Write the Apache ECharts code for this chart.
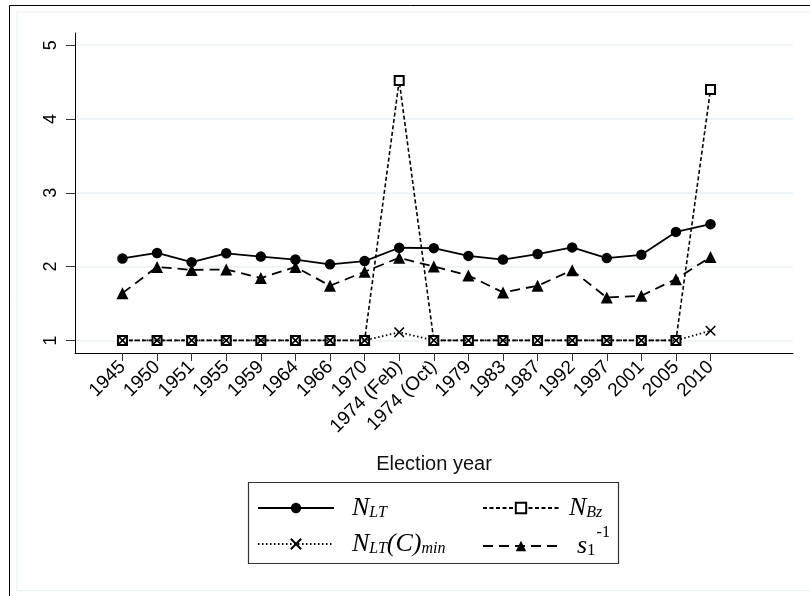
<!DOCTYPE html>
<html><head><meta charset="utf-8">
<script src="https://cdn.jsdelivr.net/npm/echarts@6/dist/echarts.min.js"></script>
<style>html,body{margin:0;padding:0;background:#fff}#c{width:810px;height:596px}</style>
</head><body><div id="c"></div>
<script>
const categories = ['1945','1950','1951','1955','1959','1964','1966','1970','1974 (Feb)','1974 (Oct)','1979','1983','1987','1992','1997','2001','2005','2010'];
const nLT     = [2.11,2.185,2.06,2.18,2.135,2.095,2.03,2.075,2.255,2.25,2.145,2.095,2.17,2.26,2.115,2.16,2.47,2.575];
const s1inv   = [1.64,1.995,1.955,1.96,1.845,1.995,1.74,1.93,2.12,2.0,1.88,1.65,1.74,1.95,1.58,1.605,1.83,2.13];
const nBz     = [1,1,1,1,1,1,1,1,4.52,1,1,1,1,1,1,1,1,4.40];
const nLTCmin = [1,1,1,1,1,1,1,1,1.11,1,1,1,1,1,1,1,1,1.13];
const yTicks = [1,2,3,4,5];
const xTicks = categories.map((c, i) => i);
const pairs = arr => arr.map((v, i) => [i, v]);

const legendNames = {
  'N_LT': '{n1|N}{sub|LT}',
  'N_Bz': '{n2|N}{sub|Bz}',
  'N_LT(C)_min': '{n1|N}{sub|LT}{n|(C)}{sub|min}',
  's1inv': '{s|s}{subu|1}{sup|-1}'
};
const rich = {
  n:   {fontFamily:'Liberation Serif', fontStyle:'italic', fontSize:26, lineHeight:26, padding:[6,0,0,0], verticalAlign:'bottom', color:'#000'},
  n1:  {fontFamily:'Liberation Serif', fontStyle:'italic', fontSize:26, lineHeight:26, padding:[6,0,0,13], verticalAlign:'bottom', color:'#000'},
  n2:  {fontFamily:'Liberation Serif', fontStyle:'italic', fontSize:26, lineHeight:26, padding:[6,0,0,5], verticalAlign:'bottom', color:'#000'},
  s:   {fontFamily:'Liberation Serif', fontStyle:'italic', fontSize:26, lineHeight:26, padding:[6,0,0,13], verticalAlign:'bottom', color:'#000'},
  sub: {fontFamily:'Liberation Serif', fontStyle:'italic', fontSize:16, lineHeight:17, verticalAlign:'bottom', color:'#000'},
  subu:{fontFamily:'Liberation Serif', fontSize:17, lineHeight:17, verticalAlign:'bottom', color:'#000'},
  sup: {fontFamily:'Liberation Serif', fontSize:16, lineHeight:14, padding:[0,0,18,1], verticalAlign:'bottom', color:'#000'}
};
function mkLegend(name, left, top) {
  return {
    data: [name], left: left, top: top, padding: 0, orient: 'horizontal',
    itemWidth: 76, itemHeight: 13, selectedMode: false,
    formatter: n => legendNames[n],
    textStyle: {rich: rich, color:'#000'}
  };
}

const chart = echarts.init(document.getElementById('c'), null, {renderer: 'canvas'});
chart.setOption({
  animation: false,
  backgroundColor: '#fff',
  graphic: [
    {type:'rect', shape:{x:9.5, y:5.5, width:900, height:700}, style:{fill:'none', stroke:'#000', lineWidth:1}, silent:true, z:-10},
    {type:'rect', shape:{x:17, y:12, width:900, height:578.7}, style:{fill:'none', stroke:'#eaf2f3', lineWidth:1.2}, silent:true, z:-10},
    {type:'rect', shape:{x:248.5, y:482.5, width:370, height:81}, style:{fill:'#fff', stroke:'#333', lineWidth:1.2}, silent:true, z:-5}
  ],
  grid: {left: 75, right: 17, top: 33, bottom: 243, containLabel: false, outerBoundsMode: 'none'},
  xAxis: {
    type: 'value', min: -1.372, max: 19.384,
    axisLine: {show: true, onZero: false, lineStyle: {color: '#000', width: 1}},
    axisTick: {show: true, customValues: xTicks, length: 8, lineStyle: {color: '#333', width: 1}},
    axisLabel: {customValues: xTicks, rotate: 45, margin: 11, fontSize: 19, fontFamily: 'Liberation Sans', color: '#000',
      formatter: v => categories[Math.round(v)]},
    splitLine: {show: false},
    name: 'Election year', nameLocation: 'middle', nameGap: 101,
    nameTextStyle: {fontSize: 20, fontFamily: 'Liberation Sans', color: '#111'}
  },
  yAxis: {
    type: 'value', min: 0.829, max: 5.165,
    axisLine: {show: true, onZero: false, lineStyle: {color: '#000', width: 1}},
    axisTick: {show: true, customValues: yTicks, length: 9, lineStyle: {color: '#333', width: 1}},
    axisLabel: {customValues: yTicks, rotate: 90, margin: 15, fontSize: 18, fontFamily: 'Liberation Sans', color: '#000'},
    splitLine: {show: true, lineStyle: {color: '#eaf2f3', width: 1.5}}
  },
  legend: [
    mkLegend('N_LT', 257, 489),
    mkLegend('N_Bz', 482, 489),
    mkLegend('N_LT(C)_min', 257, 525),
    mkLegend('s1inv', 482, 525)
  ],
  series: [
    {name: 'N_LT', type: 'line', data: pairs(nLT), symbol: 'circle', symbolSize: 10.5,
     itemStyle: {color: '#000'}, lineStyle: {color: '#000', width: 1.8, type: 'solid'}, emphasis: {disabled: true}, z: 3},
    {name: 's1inv', type: 'line', data: pairs(s1inv), symbol: 'triangle', symbolSize: 12,
     itemStyle: {color: '#000'}, lineStyle: {color: '#000', width: 1.8, type: [10, 6]}, emphasis: {disabled: true}, z: 3},
    {name: 'N_Bz', type: 'line', data: pairs(nBz), symbol: 'emptyRect', symbolSize: 9,
     itemStyle: {color: '#000', borderWidth: 1.6}, lineStyle: {color: '#000', width: 1.6, type: [4, 2.5]}, emphasis: {disabled: true}, z: 4},
    {name: 'N_LT(C)_min', type: 'line', data: pairs(nLTCmin), symbol: 'path://M0,0L10,10M10,0L0,10', symbolSize: 9.5,
     itemStyle: {color: '#000', borderColor: '#000', borderWidth: 1.6}, lineStyle: {color: '#000', width: 1.8, type: [1.5, 2.5]}, emphasis: {disabled: true}, z: 5}
  ]
});
</script>
</body></html>
